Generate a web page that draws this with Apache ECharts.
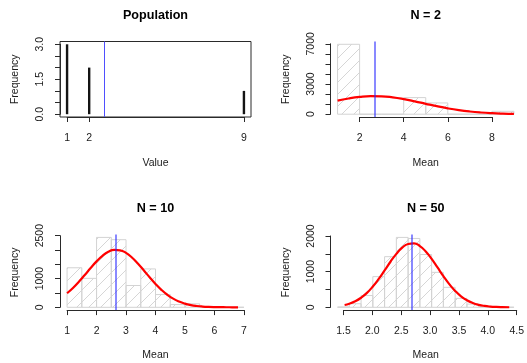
<!DOCTYPE html>
<html><head><meta charset="utf-8">
<script src="https://cdn.jsdelivr.net/npm/echarts@6/dist/echarts.min.js"></script>
<style>html,body{margin:0;padding:0;background:#fff}#c{width:527px;height:363px}</style>
</head><body><div id="c"></div>
<script>
// ---------- DATA ----------
const titles = ['Population', 'N = 2', 'N = 10', 'N = 50'];
const xLabels = ['Value', 'Mean', 'Mean', 'Mean'];
const yLabel = 'Frequency';
const means = [2.667, 2.667, 2.66, 2.665];

// Population
const popX = [1, 2, 9];
const popFreq = [3, 2, 1];
const popXTicks = [1, 2, 9];
const popYTicks = [0, 0.5, 1, 1.5, 2, 2.5, 3];
const popYLabels = [0, 1.5, 3];

// N = 2
const n2Breaks = [1, 2, 3, 4, 5, 6, 7, 8, 9];
const n2Counts = [6950, 0, 0, 1650, 1120, 0, 0, 290];
const n2CurveX = [1, 1.5, 2, 2.5, 3, 3.5, 4, 4.5, 5, 5.5, 6, 6.5, 7, 7.5, 8, 8.5, 9];
const n2CurveY = [1355, 1565, 1717, 1791, 1776, 1674, 1500, 1278, 1034, 796, 582, 405, 268, 168, 100, 57, 31];
const n2XTicks = [2, 4, 6, 8];
const n2YTicks = [0, 1000, 2000, 3000, 4000, 5000, 6000, 7000];
const n2YLabels = [0, 3000, 7000];

// N = 10
const n10Breaks = [1, 1.5, 2, 2.5, 3, 3.5, 4, 4.5, 5, 5.5, 6, 6.5, 7];
const n10Counts = [1380, 1010, 2440, 2360, 760, 1340, 445, 95, 122, 18, 4, 2];
const n10CurveX = [1.0, 1.2, 1.4, 1.6, 1.8, 2.0, 2.2, 2.4, 2.6, 2.8, 3.0, 3.2, 3.4, 3.6, 3.8, 4.0, 4.2, 4.4, 4.6, 4.8, 5.0, 5.2, 5.4, 5.6, 5.8, 6.0, 6.2, 6.4, 6.6, 6.8];
const n10CurveY = [491, 675, 891, 1128, 1372, 1603, 1798, 1937, 2003, 1990, 1898, 1739, 1529, 1292, 1048, 816, 610, 438, 302, 200, 127, 78, 46, 26, 14, 7, 4, 2, 1, 0];
const n10XTicks = [1, 2, 3, 4, 5, 6, 7];
const n10YTicks = [0, 500, 1000, 1500, 2000, 2500];
const n10YLabels = [0, 1000, 2500];

// N = 50
const n50Breaks = [1.4, 1.6, 1.8, 2.0, 2.2, 2.4, 2.6, 2.8, 3.0, 3.2, 3.4, 3.6, 3.8, 4.0, 4.2, 4.4];
const n50Counts = [10, 100, 330, 860, 1420, 1960, 1930, 1480, 980, 560, 250, 90, 30, 10, 3];
const n50CurveX = [1.52, 1.6, 1.7, 1.8, 1.9, 2.0, 2.1, 2.2, 2.3, 2.4, 2.5, 2.6, 2.7, 2.8, 2.9, 3.0, 3.1, 3.2, 3.3, 3.4, 3.5, 3.6, 3.7, 3.8, 3.9, 4.0, 4.1, 4.2, 4.32];
const n50CurveY = [64, 100, 168, 268, 404, 582, 795, 1033, 1277, 1499, 1673, 1776, 1791, 1717, 1565, 1356, 1117, 874, 651, 460, 309, 198, 120, 69, 38, 20, 10, 5, 2];
const n50XTicks = [1.5, 2.0, 2.5, 3.0, 3.5, 4.0, 4.5];
const n50YTicks = [0, 500, 1000, 1500, 2000];
const n50YLabels = [0, 1000, 2000];

// ---------- LAYOUT ----------
const FONT = '"Liberation Sans", Arial, Helvetica, sans-serif';
const AXC = '#2a2a2a';
const layout = [
  {L: 60, R: 251, T: 41.5, B: 117, xlabDy: 46.3},
  {L: 330.5, R: 521, T: 41.5, B: 117, xlabDy: 46.3},
  {L: 60, R: 251, T: 234.6, B: 310.1, xlabDy: 44.6},
  {L: 330.5, R: 521, T: 234.6, B: 310.1, xlabDy: 44.6}
];

function ext(a, b) { const d = (b - a) * 0.04; return [a - d, b + d]; }

const panels = [
  {kind: 'pop', xr: ext(Math.min(...popX), Math.max(...popX)), yr: ext(0, Math.max(...popFreq)),
   xt: popXTicks, xl: popXTicks, yt: popYTicks, yl: popYLabels, xf: v => String(v), yf: v => v.toFixed(1)},
  {kind: 'hist', breaks: n2Breaks, counts: n2Counts, cx: n2CurveX, cy: n2CurveY,
   xr: ext(n2Breaks[0], n2Breaks[n2Breaks.length - 1]), yr: ext(0, Math.max(...n2Counts)),
   xt: n2XTicks, xl: n2XTicks, yt: n2YTicks, yl: n2YLabels, xf: v => String(v), yf: v => String(v)},
  {kind: 'hist', breaks: n10Breaks, counts: n10Counts, cx: n10CurveX, cy: n10CurveY,
   xr: ext(n10Breaks[0], n10Breaks[n10Breaks.length - 1]), yr: ext(0, Math.max(...n10Counts)),
   xt: n10XTicks, xl: n10XTicks, yt: n10YTicks, yl: n10YLabels, xf: v => String(v), yf: v => String(v)},
  {kind: 'hist', breaks: n50Breaks, counts: n50Counts, cx: n50CurveX, cy: n50CurveY,
   xr: ext(n50Breaks[0], n50Breaks[n50Breaks.length - 1]), yr: ext(0, Math.max(...n50Counts)),
   xt: n50XTicks, xl: n50XTicks, yt: n50YTicks, yl: n50YLabels, xf: v => v.toFixed(1), yf: v => String(v)}
];

// hatch pattern
const pc = document.createElement('canvas');
pc.width = 12; pc.height = 12;
const g = pc.getContext('2d');
g.strokeStyle = '#d6d6d6'; g.lineWidth = 1;
g.beginPath();
g.moveTo(0, 12); g.lineTo(12, 0);
g.moveTo(-3, 3); g.lineTo(3, -3);
g.moveTo(9, 15); g.lineTo(15, 9);
g.stroke();
const hatch = {image: pc, repeat: 'repeat'};

const grid = [], xAxis = [], yAxis = [], series = [], graphic = [];
const hiddenAxis = (gi, mn, mx) => ({gridIndex: gi, type: 'value', min: mn, max: mx, show: false});

panels.forEach((p, i) => {
  const lo = layout[i];
  const W = lo.R - lo.L, H = lo.B - lo.T;
  const px = v => lo.L + (v - p.xr[0]) / (p.xr[1] - p.xr[0]) * W;
  const py = v => lo.B - (v - p.yr[0]) / (p.yr[1] - p.yr[0]) * H;

  // main plot grid
  const gm = grid.length;
  grid.push({left: lo.L, top: lo.T, width: W, height: H, containLabel: false,
    show: p.kind === 'pop', borderColor: AXC, borderWidth: 1, backgroundColor: 'transparent'});
  xAxis.push(hiddenAxis(gm, p.xr[0], p.xr[1]));
  yAxis.push(hiddenAxis(gm, p.yr[0], p.yr[1]));

  // x axis grid (spans tick range, sits on plot bottom)
  const gx = grid.length;
  const x0 = px(p.xt[0]), x1 = px(p.xt[p.xt.length - 1]);
  grid.push({left: x0, top: lo.T, width: x1 - x0, height: H});
  xAxis.push({gridIndex: gx, type: 'value', min: p.xt[0], max: p.xt[p.xt.length - 1], position: 'bottom',
    axisLine: {show: true, lineStyle: {color: AXC, width: 1}},
    axisTick: {show: true, length: 5, customValues: p.xt, lineStyle: {color: AXC, width: 1}},
    axisLabel: {show: true, customValues: p.xl, formatter: p.xf, margin: 15.5, color: '#1a1a1a', fontSize: 10.5, fontFamily: FONT},
    splitLine: {show: false}});
  yAxis.push(hiddenAxis(gx, 0, 1));

  // y axis grid (spans tick range, sits on plot left)
  const gy = grid.length;
  const y0 = py(p.yt[0]), y1 = py(p.yt[p.yt.length - 1]);
  grid.push({left: lo.L, top: y1, width: W, height: y0 - y1});
  xAxis.push(hiddenAxis(gy, 0, 1));
  yAxis.push({gridIndex: gy, type: 'value', min: p.yt[0], max: p.yt[p.yt.length - 1], position: 'left',
    axisLine: {show: true, lineStyle: {color: AXC, width: 1}},
    axisTick: {show: true, length: 5, customValues: p.yt, lineStyle: {color: AXC, width: 1}},
    axisLabel: {show: true, customValues: p.yl, formatter: p.yf, rotate: 90, margin: 14, color: '#1a1a1a', fontSize: 10.5, fontFamily: FONT},
    splitLine: {show: false}});

  const meanLine = {silent: true, symbol: ['none', 'none'], label: {show: false},
    lineStyle: i === 0 ? {color: '#4f4fff', width: 1, type: 'solid'} : {color: 'rgba(40,40,255,0.55)', width: 2, type: 'solid'},
    data: [{xAxis: means[i]}]};

  if (p.kind === 'pop') {
    series.push({type: 'custom', xAxisIndex: gm, yAxisIndex: gm, z: 3,
      data: popX.map((x, k) => [x, popFreq[k]]),
      renderItem: (params, api) => {
        const a = api.coord([api.value(0), 0]);
        const b = api.coord([api.value(0), api.value(1)]);
        return {type: 'line', shape: {x1: a[0], y1: a[1], x2: b[0], y2: b[1]}, style: {stroke: '#141414', lineWidth: 2.4}};
      },
      markLine: meanLine});
  } else {
    series.push({type: 'custom', xAxisIndex: gm, yAxisIndex: gm, z: 2,
      encode: {x: [0, 1], y: 2},
      data: p.counts.map((c, k) => [p.breaks[k], p.breaks[k + 1], c]),
      renderItem: (params, api) => {
        const a = api.coord([api.value(0), api.value(2)]);
        const b = api.coord([api.value(1), 0]);
        return {type: 'rect', shape: {x: a[0], y: a[1], width: b[0] - a[0], height: b[1] - a[1]},
          style: {fill: hatch, stroke: '#d3d3d3', lineWidth: 1}};
      }});
    series.push({type: 'line', xAxisIndex: gm, yAxisIndex: gm, z: 4, smooth: true, symbol: 'none',
      data: p.cx.map((x, k) => [x, p.cy[k]]),
      lineStyle: {color: '#ff0000', width: 2.2}, silent: true,
      markLine: meanLine});
  }

  // titles and axis titles
  graphic.push({type: 'text', x: (lo.L + lo.R) / 2, y: lo.T - 25.7,
    style: {text: titles[i], fontSize: 12.6, fontWeight: 'bold', fontFamily: FONT, fill: '#000', align: 'center', verticalAlign: 'middle'}});
  graphic.push({type: 'text', x: (lo.L + lo.R) / 2, y: lo.B + lo.xlabDy,
    style: {text: xLabels[i], fontSize: 10.5, fontFamily: FONT, fill: '#1a1a1a', align: 'center', verticalAlign: 'middle'}});
  graphic.push({type: 'text', x: lo.L - 44.5, y: (lo.T + lo.B) / 2, rotation: Math.PI / 2,
    style: {text: yLabel, fontSize: 10.5, fontFamily: FONT, fill: '#1a1a1a', align: 'center', verticalAlign: 'middle'}});
});

const chart = echarts.init(document.getElementById('c'), null, {renderer: 'canvas', width: 527, height: 363});
chart.setOption({animation: false, backgroundColor: '#fff', grid, xAxis, yAxis, series, graphic});
</script></body></html>
